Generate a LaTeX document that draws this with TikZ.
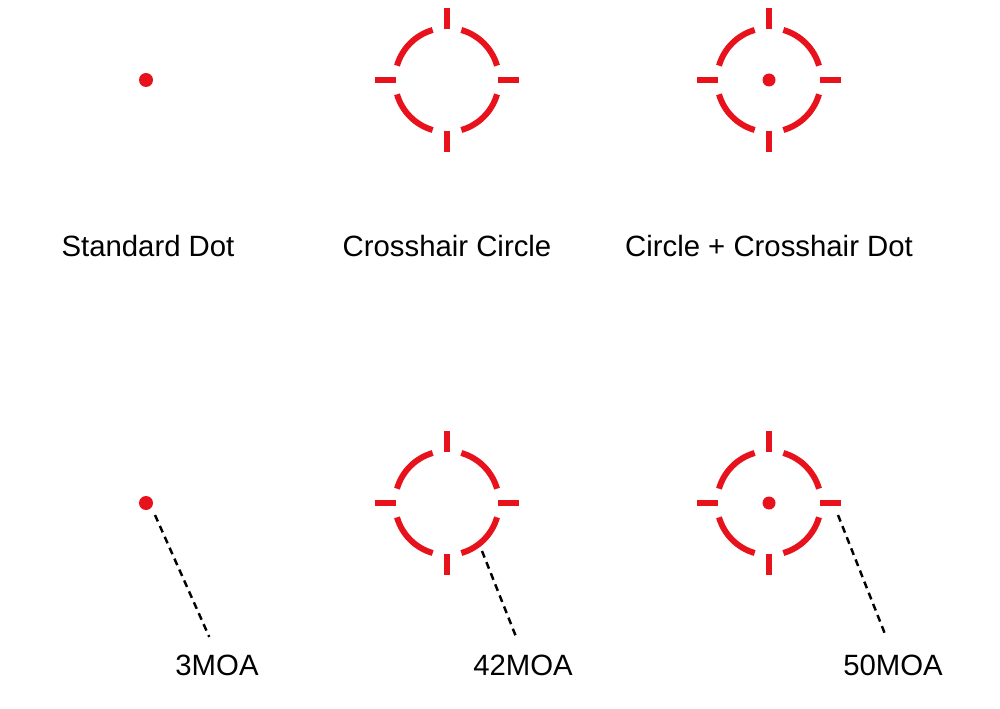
\documentclass[tikz,border=0pt]{standalone}
\usepackage{fontspec}
\setmainfont{Liberation Sans}
\usetikzlibrary{calc, positioning}

\definecolor{reticlered}{RGB}{232,18,28}

\begin{document}
\begin{tikzpicture}[
    x=0.02cm,
    y=-0.02cm,
    ring/.style={draw=reticlered, line width=3.4pt},
    leader/.style={draw=black, line width=1.4pt, dash pattern=on 4pt off 2.8pt},
    caption/.style={font=\fontsize{16.7}{20}\selectfont, inner sep=0pt},
    moa/.style={font=\fontsize{16.7}{20}\selectfont, inner sep=0pt}
]
\useasboundingbox (0,0) rectangle (1000,709);
\def\rad{52}

% Reticle centres
\coordinate (DotA) at (146,80);
\coordinate (RetA) at (447,80);
\coordinate (RetB) at (769,80);
\coordinate (DotB) at (146,503);
\coordinate (RetC) at (447,503);
\coordinate (RetD) at (769,503);

% Circles with crosshair ticks
\foreach \c in {RetA, RetB, RetC, RetD} {
    \foreach \a in {0,90,180,270} {
        \draw[ring] ([shift={(\a+16:\rad)}]\c) arc[start angle=\a+16, end angle=\a+74, radius=\rad];
        \draw[ring] ([shift={(\a:51)}]\c) -- ([shift={(\a:72)}]\c);
    }
}

% Centre dots
\fill[reticlered] (DotA) circle[radius=7];
\fill[reticlered] (RetB) circle[radius=6.5];
\fill[reticlered] (DotB) circle[radius=7];
\fill[reticlered] (RetD) circle[radius=6.5];

% Captions
\node[caption] (StdDot) at (148,246) {Standard Dot};
\node[caption] (CrossCircle) at (447,246) {Crosshair Circle};
\node[caption] (CircleDot) at (769,246) {Circle + Crosshair Dot};

% Size labels
\node[moa] (MoaThree) at (217,665) {3MOA};
\node[moa] (MoaFortyTwo) at (523,665) {42MOA};
\node[moa] (MoaFifty) at (893,665) {50MOA};

% Leader lines
\coordinate (LeadA) at (155,515);
\coordinate (LeadB) at (482,551);
\coordinate (LeadC) at (838,515);
\draw[leader, shorten >=0.38cm] (LeadA) -- (MoaThree.north);
\draw[leader, shorten >=0.36cm] (LeadB) -- (MoaFortyTwo.north);
\draw[leader, shorten >=0.38cm] (LeadC) -- (MoaFifty.north);
\end{tikzpicture}
\end{document}
